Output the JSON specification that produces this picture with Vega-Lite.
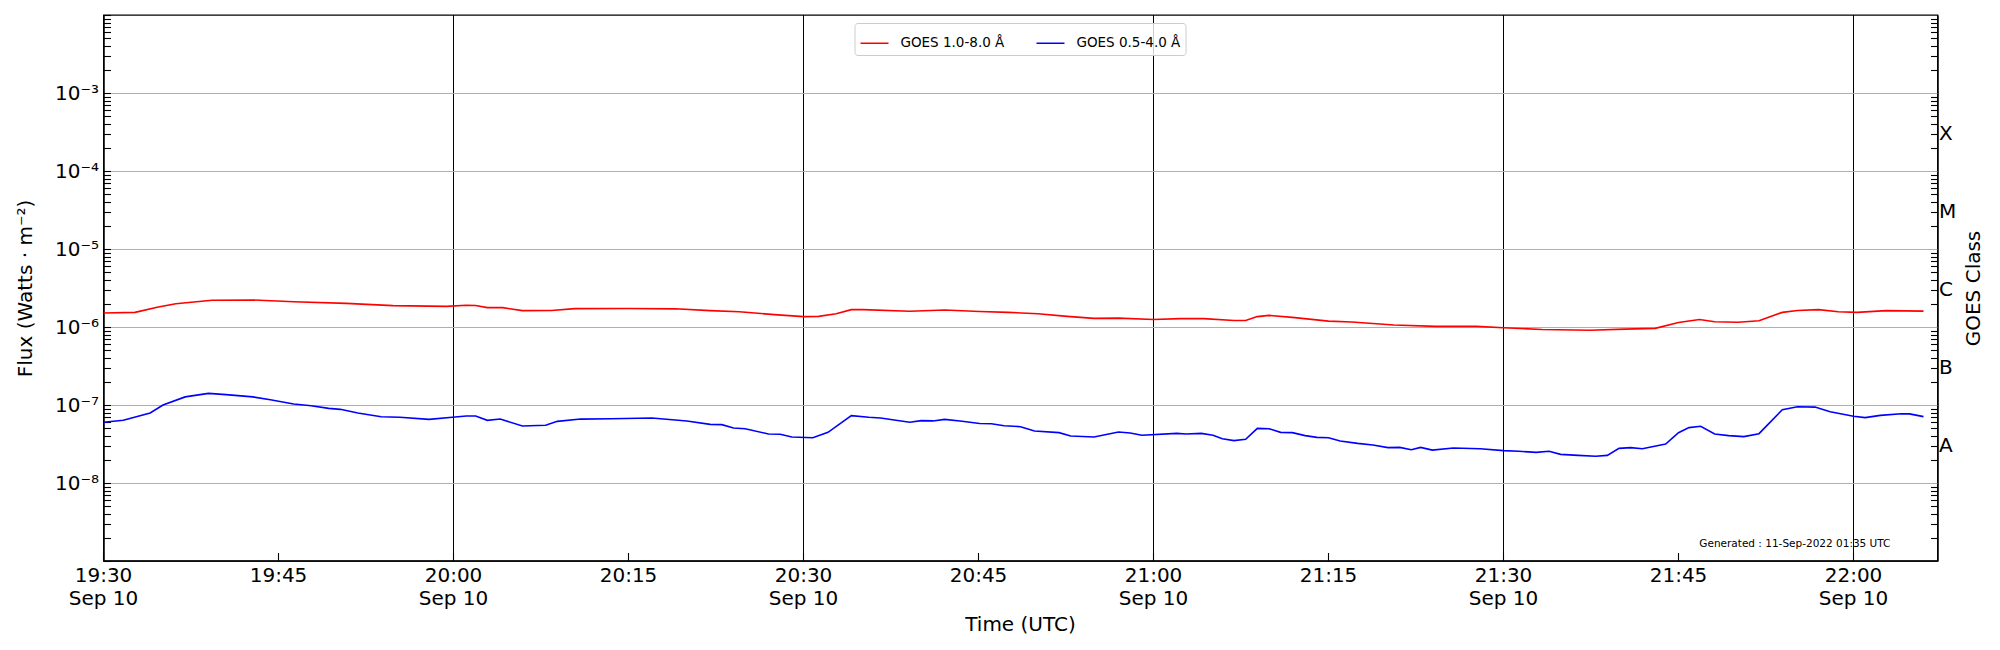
{
  "$schema": "https://vega.github.io/schema/vega-lite/v6.json",
  "width": 1834,
  "height": 546,
  "autosize": {"type": "none"},
  "padding": {"left": 103.5, "top": 15, "right": 62.5, "bottom": 89},
  "background": "white",
  "config": {
    "font": "DejaVu Sans",
    "view": {"stroke": "black", "strokeWidth": 1.3},
    "axis": {
      "labelFont": "DejaVu Sans",
      "titleFont": "DejaVu Sans",
      "labelFontSize": 20,
      "titleFontSize": 20,
      "titleFontWeight": "normal",
      "labelColor": "black",
      "titleColor": "black",
      "domainColor": "black",
      "domainWidth": 1.3,
      "tickColor": "black",
      "tickWidth": 1.1
    }
  },
  "data": {
    "values": [
      {"time": "2022-09-10T19:30:00Z", "flux": 1.51e-6, "channel": "GOES 1.0-8.0 Å"},
      {"time": "2022-09-10T19:32:42Z", "flux": 1.54e-6, "channel": "GOES 1.0-8.0 Å"},
      {"time": "2022-09-10T19:34:42Z", "flux": 1.80e-6, "channel": "GOES 1.0-8.0 Å"},
      {"time": "2022-09-10T19:36:12Z", "flux": 1.99e-6, "channel": "GOES 1.0-8.0 Å"},
      {"time": "2022-09-10T19:39:18Z", "flux": 2.20e-6, "channel": "GOES 1.0-8.0 Å"},
      {"time": "2022-09-10T19:42:48Z", "flux": 2.22e-6, "channel": "GOES 1.0-8.0 Å"},
      {"time": "2022-09-10T19:46:18Z", "flux": 2.11e-6, "channel": "GOES 1.0-8.0 Å"},
      {"time": "2022-09-10T19:50:48Z", "flux": 2.01e-6, "channel": "GOES 1.0-8.0 Å"},
      {"time": "2022-09-10T19:54:48Z", "flux": 1.88e-6, "channel": "GOES 1.0-8.0 Å"},
      {"time": "2022-09-10T19:59:24Z", "flux": 1.84e-6, "channel": "GOES 1.0-8.0 Å"},
      {"time": "2022-09-10T20:01:06Z", "flux": 1.90e-6, "channel": "GOES 1.0-8.0 Å"},
      {"time": "2022-09-10T20:01:54Z", "flux": 1.89e-6, "channel": "GOES 1.0-8.0 Å"},
      {"time": "2022-09-10T20:02:54Z", "flux": 1.77e-6, "channel": "GOES 1.0-8.0 Å"},
      {"time": "2022-09-10T20:04:12Z", "flux": 1.77e-6, "channel": "GOES 1.0-8.0 Å"},
      {"time": "2022-09-10T20:05:54Z", "flux": 1.62e-6, "channel": "GOES 1.0-8.0 Å"},
      {"time": "2022-09-10T20:08:24Z", "flux": 1.63e-6, "channel": "GOES 1.0-8.0 Å"},
      {"time": "2022-09-10T20:10:24Z", "flux": 1.72e-6, "channel": "GOES 1.0-8.0 Å"},
      {"time": "2022-09-10T20:15:00Z", "flux": 1.73e-6, "channel": "GOES 1.0-8.0 Å"},
      {"time": "2022-09-10T20:19:00Z", "flux": 1.71e-6, "channel": "GOES 1.0-8.0 Å"},
      {"time": "2022-09-10T20:22:00Z", "flux": 1.62e-6, "channel": "GOES 1.0-8.0 Å"},
      {"time": "2022-09-10T20:24:30Z", "flux": 1.57e-6, "channel": "GOES 1.0-8.0 Å"},
      {"time": "2022-09-10T20:27:30Z", "flux": 1.44e-6, "channel": "GOES 1.0-8.0 Å"},
      {"time": "2022-09-10T20:30:00Z", "flux": 1.36e-6, "channel": "GOES 1.0-8.0 Å"},
      {"time": "2022-09-10T20:31:18Z", "flux": 1.37e-6, "channel": "GOES 1.0-8.0 Å"},
      {"time": "2022-09-10T20:32:48Z", "flux": 1.48e-6, "channel": "GOES 1.0-8.0 Å"},
      {"time": "2022-09-10T20:34:06Z", "flux": 1.67e-6, "channel": "GOES 1.0-8.0 Å"},
      {"time": "2022-09-10T20:35:06Z", "flux": 1.67e-6, "channel": "GOES 1.0-8.0 Å"},
      {"time": "2022-09-10T20:39:06Z", "flux": 1.59e-6, "channel": "GOES 1.0-8.0 Å"},
      {"time": "2022-09-10T20:42:06Z", "flux": 1.65e-6, "channel": "GOES 1.0-8.0 Å"},
      {"time": "2022-09-10T20:45:06Z", "flux": 1.58e-6, "channel": "GOES 1.0-8.0 Å"},
      {"time": "2022-09-10T20:47:33Z", "flux": 1.54e-6, "channel": "GOES 1.0-8.0 Å"},
      {"time": "2022-09-10T20:50:06Z", "flux": 1.48e-6, "channel": "GOES 1.0-8.0 Å"},
      {"time": "2022-09-10T20:52:36Z", "flux": 1.37e-6, "channel": "GOES 1.0-8.0 Å"},
      {"time": "2022-09-10T20:54:54Z", "flux": 1.29e-6, "channel": "GOES 1.0-8.0 Å"},
      {"time": "2022-09-10T20:57:00Z", "flux": 1.30e-6, "channel": "GOES 1.0-8.0 Å"},
      {"time": "2022-09-10T21:00:00Z", "flux": 1.25e-6, "channel": "GOES 1.0-8.0 Å"},
      {"time": "2022-09-10T21:02:18Z", "flux": 1.28e-6, "channel": "GOES 1.0-8.0 Å"},
      {"time": "2022-09-10T21:04:18Z", "flux": 1.28e-6, "channel": "GOES 1.0-8.0 Å"},
      {"time": "2022-09-10T21:06:54Z", "flux": 1.21e-6, "channel": "GOES 1.0-8.0 Å"},
      {"time": "2022-09-10T21:07:54Z", "flux": 1.21e-6, "channel": "GOES 1.0-8.0 Å"},
      {"time": "2022-09-10T21:08:54Z", "flux": 1.36e-6, "channel": "GOES 1.0-8.0 Å"},
      {"time": "2022-09-10T21:09:54Z", "flux": 1.41e-6, "channel": "GOES 1.0-8.0 Å"},
      {"time": "2022-09-10T21:11:54Z", "flux": 1.33e-6, "channel": "GOES 1.0-8.0 Å"},
      {"time": "2022-09-10T21:15:00Z", "flux": 1.19e-6, "channel": "GOES 1.0-8.0 Å"},
      {"time": "2022-09-10T21:17:00Z", "flux": 1.16e-6, "channel": "GOES 1.0-8.0 Å"},
      {"time": "2022-09-10T21:20:36Z", "flux": 1.06e-6, "channel": "GOES 1.0-8.0 Å"},
      {"time": "2022-09-10T21:24:12Z", "flux": 1.02e-6, "channel": "GOES 1.0-8.0 Å"},
      {"time": "2022-09-10T21:27:42Z", "flux": 1.02e-6, "channel": "GOES 1.0-8.0 Å"},
      {"time": "2022-09-10T21:30:00Z", "flux": 9.8e-7, "channel": "GOES 1.0-8.0 Å"},
      {"time": "2022-09-10T21:33:18Z", "flux": 9.3e-7, "channel": "GOES 1.0-8.0 Å"},
      {"time": "2022-09-10T21:37:24Z", "flux": 9.1e-7, "channel": "GOES 1.0-8.0 Å"},
      {"time": "2022-09-10T21:40:24Z", "flux": 9.4e-7, "channel": "GOES 1.0-8.0 Å"},
      {"time": "2022-09-10T21:43:00Z", "flux": 9.6e-7, "channel": "GOES 1.0-8.0 Å"},
      {"time": "2022-09-10T21:45:00Z", "flux": 1.14e-6, "channel": "GOES 1.0-8.0 Å"},
      {"time": "2022-09-10T21:46:48Z", "flux": 1.25e-6, "channel": "GOES 1.0-8.0 Å"},
      {"time": "2022-09-10T21:48:06Z", "flux": 1.17e-6, "channel": "GOES 1.0-8.0 Å"},
      {"time": "2022-09-10T21:50:06Z", "flux": 1.15e-6, "channel": "GOES 1.0-8.0 Å"},
      {"time": "2022-09-10T21:51:54Z", "flux": 1.20e-6, "channel": "GOES 1.0-8.0 Å"},
      {"time": "2022-09-10T21:53:54Z", "flux": 1.54e-6, "channel": "GOES 1.0-8.0 Å"},
      {"time": "2022-09-10T21:55:12Z", "flux": 1.63e-6, "channel": "GOES 1.0-8.0 Å"},
      {"time": "2022-09-10T21:57:00Z", "flux": 1.67e-6, "channel": "GOES 1.0-8.0 Å"},
      {"time": "2022-09-10T21:58:42Z", "flux": 1.57e-6, "channel": "GOES 1.0-8.0 Å"},
      {"time": "2022-09-10T22:00:18Z", "flux": 1.54e-6, "channel": "GOES 1.0-8.0 Å"},
      {"time": "2022-09-10T22:02:48Z", "flux": 1.62e-6, "channel": "GOES 1.0-8.0 Å"},
      {"time": "2022-09-10T22:06:00Z", "flux": 1.60e-6, "channel": "GOES 1.0-8.0 Å"},

      {"time": "2022-09-10T19:30:00Z", "flux": 6.0e-8, "channel": "GOES 0.5-4.0 Å"},
      {"time": "2022-09-10T19:31:42Z", "flux": 6.36e-8, "channel": "GOES 0.5-4.0 Å"},
      {"time": "2022-09-10T19:34:00Z", "flux": 7.9e-8, "channel": "GOES 0.5-4.0 Å"},
      {"time": "2022-09-10T19:35:06Z", "flux": 1.0e-7, "channel": "GOES 0.5-4.0 Å"},
      {"time": "2022-09-10T19:37:00Z", "flux": 1.27e-7, "channel": "GOES 0.5-4.0 Å"},
      {"time": "2022-09-10T19:39:00Z", "flux": 1.41e-7, "channel": "GOES 0.5-4.0 Å"},
      {"time": "2022-09-10T19:40:30Z", "flux": 1.36e-7, "channel": "GOES 0.5-4.0 Å"},
      {"time": "2022-09-10T19:42:48Z", "flux": 1.27e-7, "channel": "GOES 0.5-4.0 Å"},
      {"time": "2022-09-10T19:44:18Z", "flux": 1.17e-7, "channel": "GOES 0.5-4.0 Å"},
      {"time": "2022-09-10T19:46:18Z", "flux": 1.03e-7, "channel": "GOES 0.5-4.0 Å"},
      {"time": "2022-09-10T19:47:48Z", "flux": 9.8e-8, "channel": "GOES 0.5-4.0 Å"},
      {"time": "2022-09-10T19:49:18Z", "flux": 9.06e-8, "channel": "GOES 0.5-4.0 Å"},
      {"time": "2022-09-10T19:50:18Z", "flux": 8.8e-8, "channel": "GOES 0.5-4.0 Å"},
      {"time": "2022-09-10T19:51:48Z", "flux": 7.9e-8, "channel": "GOES 0.5-4.0 Å"},
      {"time": "2022-09-10T19:53:48Z", "flux": 7.08e-8, "channel": "GOES 0.5-4.0 Å"},
      {"time": "2022-09-10T19:55:24Z", "flux": 6.95e-8, "channel": "GOES 0.5-4.0 Å"},
      {"time": "2022-09-10T19:57:54Z", "flux": 6.55e-8, "channel": "GOES 0.5-4.0 Å"},
      {"time": "2022-09-10T19:59:54Z", "flux": 6.95e-8, "channel": "GOES 0.5-4.0 Å"},
      {"time": "2022-09-10T20:01:06Z", "flux": 7.23e-8, "channel": "GOES 0.5-4.0 Å"},
      {"time": "2022-09-10T20:01:54Z", "flux": 7.23e-8, "channel": "GOES 0.5-4.0 Å"},
      {"time": "2022-09-10T20:02:54Z", "flux": 6.36e-8, "channel": "GOES 0.5-4.0 Å"},
      {"time": "2022-09-10T20:04:00Z", "flux": 6.6e-8, "channel": "GOES 0.5-4.0 Å"},
      {"time": "2022-09-10T20:05:54Z", "flux": 5.38e-8, "channel": "GOES 0.5-4.0 Å"},
      {"time": "2022-09-10T20:07:54Z", "flux": 5.5e-8, "channel": "GOES 0.5-4.0 Å"},
      {"time": "2022-09-10T20:08:54Z", "flux": 6.17e-8, "channel": "GOES 0.5-4.0 Å"},
      {"time": "2022-09-10T20:10:54Z", "flux": 6.6e-8, "channel": "GOES 0.5-4.0 Å"},
      {"time": "2022-09-10T20:13:30Z", "flux": 6.65e-8, "channel": "GOES 0.5-4.0 Å"},
      {"time": "2022-09-10T20:17:00Z", "flux": 6.8e-8, "channel": "GOES 0.5-4.0 Å"},
      {"time": "2022-09-10T20:20:00Z", "flux": 6.24e-8, "channel": "GOES 0.5-4.0 Å"},
      {"time": "2022-09-10T20:22:00Z", "flux": 5.65e-8, "channel": "GOES 0.5-4.0 Å"},
      {"time": "2022-09-10T20:23:00Z", "flux": 5.6e-8, "channel": "GOES 0.5-4.0 Å"},
      {"time": "2022-09-10T20:24:00Z", "flux": 5.07e-8, "channel": "GOES 0.5-4.0 Å"},
      {"time": "2022-09-10T20:25:00Z", "flux": 4.95e-8, "channel": "GOES 0.5-4.0 Å"},
      {"time": "2022-09-10T20:27:00Z", "flux": 4.25e-8, "channel": "GOES 0.5-4.0 Å"},
      {"time": "2022-09-10T20:28:00Z", "flux": 4.22e-8, "channel": "GOES 0.5-4.0 Å"},
      {"time": "2022-09-10T20:29:00Z", "flux": 3.89e-8, "channel": "GOES 0.5-4.0 Å"},
      {"time": "2022-09-10T20:30:48Z", "flux": 3.8e-8, "channel": "GOES 0.5-4.0 Å"},
      {"time": "2022-09-10T20:32:06Z", "flux": 4.46e-8, "channel": "GOES 0.5-4.0 Å"},
      {"time": "2022-09-10T20:34:06Z", "flux": 7.3e-8, "channel": "GOES 0.5-4.0 Å"},
      {"time": "2022-09-10T20:35:36Z", "flux": 6.95e-8, "channel": "GOES 0.5-4.0 Å"},
      {"time": "2022-09-10T20:36:36Z", "flux": 6.8e-8, "channel": "GOES 0.5-4.0 Å"},
      {"time": "2022-09-10T20:39:06Z", "flux": 6.0e-8, "channel": "GOES 0.5-4.0 Å"},
      {"time": "2022-09-10T20:40:06Z", "flux": 6.3e-8, "channel": "GOES 0.5-4.0 Å"},
      {"time": "2022-09-10T20:41:06Z", "flux": 6.25e-8, "channel": "GOES 0.5-4.0 Å"},
      {"time": "2022-09-10T20:42:06Z", "flux": 6.55e-8, "channel": "GOES 0.5-4.0 Å"},
      {"time": "2022-09-10T20:43:36Z", "flux": 6.2e-8, "channel": "GOES 0.5-4.0 Å"},
      {"time": "2022-09-10T20:45:06Z", "flux": 5.8e-8, "channel": "GOES 0.5-4.0 Å"},
      {"time": "2022-09-10T20:46:06Z", "flux": 5.75e-8, "channel": "GOES 0.5-4.0 Å"},
      {"time": "2022-09-10T20:47:12Z", "flux": 5.43e-8, "channel": "GOES 0.5-4.0 Å"},
      {"time": "2022-09-10T20:48:36Z", "flux": 5.27e-8, "channel": "GOES 0.5-4.0 Å"},
      {"time": "2022-09-10T20:49:48Z", "flux": 4.64e-8, "channel": "GOES 0.5-4.0 Å"},
      {"time": "2022-09-10T20:51:54Z", "flux": 4.42e-8, "channel": "GOES 0.5-4.0 Å"},
      {"time": "2022-09-10T20:52:54Z", "flux": 4.01e-8, "channel": "GOES 0.5-4.0 Å"},
      {"time": "2022-09-10T20:54:54Z", "flux": 3.89e-8, "channel": "GOES 0.5-4.0 Å"},
      {"time": "2022-09-10T20:57:00Z", "flux": 4.5e-8, "channel": "GOES 0.5-4.0 Å"},
      {"time": "2022-09-10T20:58:00Z", "flux": 4.37e-8, "channel": "GOES 0.5-4.0 Å"},
      {"time": "2022-09-10T20:59:00Z", "flux": 4.09e-8, "channel": "GOES 0.5-4.0 Å"},
      {"time": "2022-09-10T21:02:00Z", "flux": 4.33e-8, "channel": "GOES 0.5-4.0 Å"},
      {"time": "2022-09-10T21:02:48Z", "flux": 4.25e-8, "channel": "GOES 0.5-4.0 Å"},
      {"time": "2022-09-10T21:04:06Z", "flux": 4.33e-8, "channel": "GOES 0.5-4.0 Å"},
      {"time": "2022-09-10T21:05:06Z", "flux": 4.1e-8, "channel": "GOES 0.5-4.0 Å"},
      {"time": "2022-09-10T21:05:54Z", "flux": 3.7e-8, "channel": "GOES 0.5-4.0 Å"},
      {"time": "2022-09-10T21:06:54Z", "flux": 3.49e-8, "channel": "GOES 0.5-4.0 Å"},
      {"time": "2022-09-10T21:07:54Z", "flux": 3.63e-8, "channel": "GOES 0.5-4.0 Å"},
      {"time": "2022-09-10T21:08:54Z", "flux": 5.02e-8, "channel": "GOES 0.5-4.0 Å"},
      {"time": "2022-09-10T21:09:54Z", "flux": 4.97e-8, "channel": "GOES 0.5-4.0 Å"},
      {"time": "2022-09-10T21:10:54Z", "flux": 4.46e-8, "channel": "GOES 0.5-4.0 Å"},
      {"time": "2022-09-10T21:11:54Z", "flux": 4.42e-8, "channel": "GOES 0.5-4.0 Å"},
      {"time": "2022-09-10T21:13:00Z", "flux": 4.05e-8, "channel": "GOES 0.5-4.0 Å"},
      {"time": "2022-09-10T21:14:00Z", "flux": 3.85e-8, "channel": "GOES 0.5-4.0 Å"},
      {"time": "2022-09-10T21:15:00Z", "flux": 3.8e-8, "channel": "GOES 0.5-4.0 Å"},
      {"time": "2022-09-10T21:16:00Z", "flux": 3.46e-8, "channel": "GOES 0.5-4.0 Å"},
      {"time": "2022-09-10T21:17:30Z", "flux": 3.22e-8, "channel": "GOES 0.5-4.0 Å"},
      {"time": "2022-09-10T21:18:48Z", "flux": 3.07e-8, "channel": "GOES 0.5-4.0 Å"},
      {"time": "2022-09-10T21:20:06Z", "flux": 2.84e-8, "channel": "GOES 0.5-4.0 Å"},
      {"time": "2022-09-10T21:21:06Z", "flux": 2.86e-8, "channel": "GOES 0.5-4.0 Å"},
      {"time": "2022-09-10T21:22:06Z", "flux": 2.67e-8, "channel": "GOES 0.5-4.0 Å"},
      {"time": "2022-09-10T21:22:54Z", "flux": 2.86e-8, "channel": "GOES 0.5-4.0 Å"},
      {"time": "2022-09-10T21:23:54Z", "flux": 2.64e-8, "channel": "GOES 0.5-4.0 Å"},
      {"time": "2022-09-10T21:25:42Z", "flux": 2.81e-8, "channel": "GOES 0.5-4.0 Å"},
      {"time": "2022-09-10T21:28:00Z", "flux": 2.75e-8, "channel": "GOES 0.5-4.0 Å"},
      {"time": "2022-09-10T21:30:00Z", "flux": 2.6e-8, "channel": "GOES 0.5-4.0 Å"},
      {"time": "2022-09-10T21:31:18Z", "flux": 2.55e-8, "channel": "GOES 0.5-4.0 Å"},
      {"time": "2022-09-10T21:32:48Z", "flux": 2.47e-8, "channel": "GOES 0.5-4.0 Å"},
      {"time": "2022-09-10T21:33:54Z", "flux": 2.55e-8, "channel": "GOES 0.5-4.0 Å"},
      {"time": "2022-09-10T21:34:54Z", "flux": 2.33e-8, "channel": "GOES 0.5-4.0 Å"},
      {"time": "2022-09-10T21:36:24Z", "flux": 2.26e-8, "channel": "GOES 0.5-4.0 Å"},
      {"time": "2022-09-10T21:37:54Z", "flux": 2.2e-8, "channel": "GOES 0.5-4.0 Å"},
      {"time": "2022-09-10T21:38:54Z", "flux": 2.26e-8, "channel": "GOES 0.5-4.0 Å"},
      {"time": "2022-09-10T21:39:54Z", "flux": 2.78e-8, "channel": "GOES 0.5-4.0 Å"},
      {"time": "2022-09-10T21:40:54Z", "flux": 2.84e-8, "channel": "GOES 0.5-4.0 Å"},
      {"time": "2022-09-10T21:41:54Z", "flux": 2.75e-8, "channel": "GOES 0.5-4.0 Å"},
      {"time": "2022-09-10T21:43:54Z", "flux": 3.16e-8, "channel": "GOES 0.5-4.0 Å"},
      {"time": "2022-09-10T21:45:00Z", "flux": 4.42e-8, "channel": "GOES 0.5-4.0 Å"},
      {"time": "2022-09-10T21:45:54Z", "flux": 5.13e-8, "channel": "GOES 0.5-4.0 Å"},
      {"time": "2022-09-10T21:46:54Z", "flux": 5.33e-8, "channel": "GOES 0.5-4.0 Å"},
      {"time": "2022-09-10T21:48:06Z", "flux": 4.25e-8, "channel": "GOES 0.5-4.0 Å"},
      {"time": "2022-09-10T21:49:18Z", "flux": 4.05e-8, "channel": "GOES 0.5-4.0 Å"},
      {"time": "2022-09-10T21:50:36Z", "flux": 3.93e-8, "channel": "GOES 0.5-4.0 Å"},
      {"time": "2022-09-10T21:51:54Z", "flux": 4.29e-8, "channel": "GOES 0.5-4.0 Å"},
      {"time": "2022-09-10T21:53:54Z", "flux": 8.7e-8, "channel": "GOES 0.5-4.0 Å"},
      {"time": "2022-09-10T21:55:12Z", "flux": 9.5e-8, "channel": "GOES 0.5-4.0 Å"},
      {"time": "2022-09-10T21:56:42Z", "flux": 9.4e-8, "channel": "GOES 0.5-4.0 Å"},
      {"time": "2022-09-10T21:58:00Z", "flux": 8.2e-8, "channel": "GOES 0.5-4.0 Å"},
      {"time": "2022-09-10T22:00:00Z", "flux": 7.16e-8, "channel": "GOES 0.5-4.0 Å"},
      {"time": "2022-09-10T22:01:00Z", "flux": 6.9e-8, "channel": "GOES 0.5-4.0 Å"},
      {"time": "2022-09-10T22:02:18Z", "flux": 7.37e-8, "channel": "GOES 0.5-4.0 Å"},
      {"time": "2022-09-10T22:04:06Z", "flux": 7.74e-8, "channel": "GOES 0.5-4.0 Å"},
      {"time": "2022-09-10T22:04:48Z", "flux": 7.7e-8, "channel": "GOES 0.5-4.0 Å"},
      {"time": "2022-09-10T22:06:00Z", "flux": 7.1e-8, "channel": "GOES 0.5-4.0 Å"}
    ]
  },
  "layer": [
    {
      "layer": [
        {
          "mark": {"type": "line", "strokeWidth": 1.6, "clip": true},
          "encoding": {
            "x": {
              "field": "time",
              "type": "temporal",
              "scale": {
                "type": "utc",
                "domain": [
                  {"year": 2022, "month": 9, "date": 10, "hours": 19, "minutes": 30, "utc": true},
                  {"year": 2022, "month": 9, "date": 10, "hours": 22, "minutes": 7, "seconds": 12, "utc": true}
                ],
                "nice": false
              },
              "axis": {
                "title": "Time (UTC)",
                "titleY": 70,
                "titleBaseline": "alphabetic",
                "translate": 0,
                "values": [
                  {"year": 2022, "month": 9, "date": 10, "hours": 19, "minutes": 30, "utc": true},
                  {"year": 2022, "month": 9, "date": 10, "hours": 19, "minutes": 45, "utc": true},
                  {"year": 2022, "month": 9, "date": 10, "hours": 20, "minutes": 0, "utc": true},
                  {"year": 2022, "month": 9, "date": 10, "hours": 20, "minutes": 15, "utc": true},
                  {"year": 2022, "month": 9, "date": 10, "hours": 20, "minutes": 30, "utc": true},
                  {"year": 2022, "month": 9, "date": 10, "hours": 20, "minutes": 45, "utc": true},
                  {"year": 2022, "month": 9, "date": 10, "hours": 21, "minutes": 0, "utc": true},
                  {"year": 2022, "month": 9, "date": 10, "hours": 21, "minutes": 15, "utc": true},
                  {"year": 2022, "month": 9, "date": 10, "hours": 21, "minutes": 30, "utc": true},
                  {"year": 2022, "month": 9, "date": 10, "hours": 21, "minutes": 45, "utc": true},
                  {"year": 2022, "month": 9, "date": 10, "hours": 22, "minutes": 0, "utc": true}
                ],
                "labelExpr": "utcminutes(datum.value) % 30 == 0 ? [utcFormat(datum.value, '%H:%M'), utcFormat(datum.value, '%b %d')] : utcFormat(datum.value, '%H:%M')",
                "labelLineHeight": 23,
                "labelBaseline": "top",
                "labelPadding": 13,
                "labelFlush": false,
                "tickSize": -8,
                "grid": true,
                "gridColor": "black",
                "gridWidth": 1,
                "gridOpacity": {"condition": {"test": "utcminutes(datum.value) % 30 == 0", "value": 1}, "value": 0}
              }
            },
            "y": {
              "field": "flux",
              "type": "quantitative",
              "scale": {"type": "log", "domain": [1e-9, 1e-2], "nice": false},
              "axis": {
                "orient": "left",
                "title": "Flux (Watts · m⁻²)",
                "titleAngle": -90,
                "titleX": -78,
                "titleY": 273,
                "titleAlign": "center",
                "titleBaseline": "middle",
                "values": [1e-9, 2e-9, 3e-9, 4e-9, 5e-9, 6e-9, 7e-9, 8e-9, 9e-9,
                           1e-8, 2e-8, 3e-8, 4e-8, 5e-8, 6e-8, 7e-8, 8e-8, 9e-8,
                           1e-7, 2e-7, 3e-7, 4e-7, 5e-7, 6e-7, 7e-7, 8e-7, 9e-7,
                           1e-6, 2e-6, 3e-6, 4e-6, 5e-6, 6e-6, 7e-6, 8e-6, 9e-6,
                           1e-5, 2e-5, 3e-5, 4e-5, 5e-5, 6e-5, 7e-5, 8e-5, 9e-5,
                           1e-4, 2e-4, 3e-4, 4e-4, 5e-4, 6e-4, 7e-4, 8e-4, 9e-4,
                           1e-3, 2e-3, 3e-3, 4e-3, 5e-3, 6e-3, 7e-3, 8e-3, 9e-3, 1e-2],
                "labelExpr": "abs(log(datum.value)/LN10 - round(log(datum.value)/LN10)) < 0.001 && datum.value > 2e-9 && datum.value < 5e-3 ? '10⁻' + substring('⁰¹²³⁴⁵⁶⁷⁸⁹', -round(log(datum.value)/LN10), 1 - round(log(datum.value)/LN10)) : ''",
                "labelPadding": 12,
                "labelBaseline": "middle",
                "labelFlush": false,
                "labelOverlap": false,
                "tickSize": -7,
                "grid": true,
                "gridColor": "#b0b0b0",
                "gridWidth": 1.2,
                "gridOpacity": {"condition": {"test": "abs(log(datum.value)/LN10 - round(log(datum.value)/LN10)) < 0.001 && datum.value > 2e-9 && datum.value < 5e-3", "value": 1}, "value": 0}
              }
            },
            "color": {
              "field": "channel",
              "type": "nominal",
              "scale": {"domain": ["GOES 1.0-8.0 Å", "GOES 0.5-4.0 Å"], "range": ["#ff0000", "#0000ff"]},
              "legend": {
                "title": null,
                "orient": "none",
                "legendX": 751,
                "legendY": 8,
                "direction": "horizontal",
                "labelFont": "DejaVu Sans",
                "labelFontSize": 13.5,
                "labelColor": "black",
                "symbolType": "stroke",
                "symbolSize": 784,
                "symbolStrokeWidth": 1.5,
                "labelOffset": 11,
                "columnPadding": 29,
                "padding": 5,
                "strokeColor": "#cccccc",
                "fillColor": "rgba(255,255,255,0.8)",
                "cornerRadius": 3
              }
            }
          }
        },
        {
          "data": {"values": [{"time": "2022-09-10T22:03:10Z", "flux": 1.67e-9, "note": "Generated : 11-Sep-2022 01:35 UTC"}]},
          "mark": {"type": "text", "align": "right", "baseline": "middle", "fontSize": 10.5, "font": "DejaVu Sans", "color": "black"},
          "encoding": {
            "x": {"field": "time", "type": "temporal"},
            "y": {"field": "flux", "type": "quantitative"},
            "text": {"field": "note"}
          }
        }
      ]
    },
    {
      "mark": {"type": "line", "opacity": 0},
      "encoding": {
        "x": {"field": "time", "type": "temporal"},
        "y": {
          "field": "flux",
          "type": "quantitative",
          "scale": {"type": "log", "domain": [1e-9, 1e-2], "nice": false},
          "axis": {
            "orient": "right",
            "title": "GOES Class",
            "titleAngle": -90,
            "titleX": 36,
            "titleY": 273,
            "titleAlign": "center",
            "titleBaseline": "middle",
            "values": [2e-9, 3e-9, 4e-9, 5e-9, 6e-9, 7e-9, 8e-9, 9e-9,
                       2e-8, 3e-8, 4e-8, 5e-8, 6e-8, 7e-8, 8e-8, 9e-8,
                       2e-7, 3e-7, 4e-7, 5e-7, 6e-7, 7e-7, 8e-7, 9e-7,
                       2e-6, 3e-6, 4e-6, 5e-6, 6e-6, 7e-6, 8e-6, 9e-6,
                       2e-5, 3e-5, 4e-5, 5e-5, 6e-5, 7e-5, 8e-5, 9e-5,
                       2e-4, 3e-4, 4e-4, 5e-4, 6e-4, 7e-4, 8e-4, 9e-4,
                       2e-3, 3e-3, 4e-3, 5e-3, 6e-3, 7e-3, 8e-3, 9e-3],
            "labelExpr": "datum.value > 2.9e-8 && datum.value < 3.1e-8 ? 'A' : datum.value > 2.9e-7 && datum.value < 3.1e-7 ? 'B' : datum.value > 2.9e-6 && datum.value < 3.1e-6 ? 'C' : datum.value > 2.9e-5 && datum.value < 3.1e-5 ? 'M' : datum.value > 2.9e-4 && datum.value < 3.1e-4 ? 'X' : ''",
            "labelPadding": 8,
            "labelBaseline": "middle",
            "labelFlush": false,
            "labelOverlap": false,
            "tickSize": -7,
            "grid": false
          }
        }
      }
    }
  ],
  "resolve": {"scale": {"y": "independent"}, "axis": {"y": "independent"}}
}
